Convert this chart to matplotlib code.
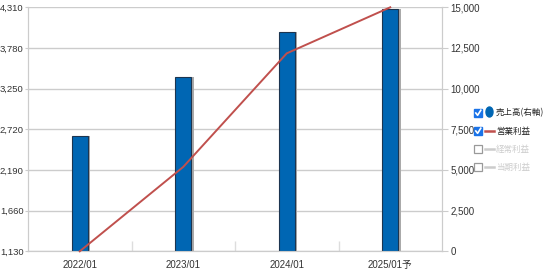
import matplotlib.pyplot as plt
from matplotlib.patches import Rectangle, Ellipse
from matplotlib.lines import Line2D

plt.rcParams['font.family'] = ['Noto Sans CJK JP', 'DejaVu Sans']
num_font = ['Liberation Sans', 'Noto Sans CJK JP']

periods = ['2022/01', '2023/01', '2024/01', '2025/01予']
sales = [7080, 10700, 13460, 14870]
op_profit = [1130, 2230, 3710, 4310]
left_ticks = [1130, 1660, 2190, 2720, 3250, 3780, 4310]
right_ticks = [0, 2500, 5000, 7500, 10000, 12500, 15000]
legend_labels = ['売上高(右軸)', '営業利益', '経常利益', '当期利益']
legend_on = [True, True, False, False]

W, H = 545, 276
fig = plt.figure(figsize=(W / 100, H / 100), dpi=100)
ax = fig.add_axes([28 / W, 1 - 251.3 / H, (442 - 28) / W, (251.3 - 7.3) / H])
ax2 = ax.twinx()

x = list(range(len(periods)))
blue = '#0066b3'
red = '#c0504d'
grid_c = '#cccccc'

# bars (sales, right axis)
ax.bar([i + 0.02 for i in x], sales, width=0.16, color='#aaaaaa', zorder=2)
ax.bar(x, sales, width=0.155, color=blue, edgecolor='#1c3550', linewidth=0.8, zorder=3)
ax.set_ylim(0, 15000)
ax.set_yticks(right_ticks)
ax.set_yticklabels([f'{v:,}' for v in right_ticks], family=num_font)
ax.yaxis.tick_right()
ax.grid(axis='y', color=grid_c, linewidth=1, zorder=0)
ax.set_xlim(-0.5, 3.5)
ax.set_xticks(x)
ax.set_xticklabels(periods, family=num_font)
ax.set_xticks([0.5, 1.5, 2.5], minor=True)
ax.tick_params(axis='x', which='major', length=0, pad=6, labelsize=7, colors='#333333')
ax.tick_params(axis='x', which='minor', length=7, direction='in', color='#dddddd', width=1)
ax.tick_params(axis='y', length=4, color=grid_c, labelsize=7, labelcolor='#333333', pad=2)

# line (operating profit, left axis)
ax2.plot(x, op_profit, color=red, linewidth=1.4, zorder=4, clip_on=False)
ax2.set_ylim(1130, 4310)
ax2.set_yticks(left_ticks)
ax2.set_yticklabels([f'{v:,}' for v in left_ticks], family=num_font)
ax2.yaxis.tick_left()
ax2.tick_params(axis='y', length=2, color=grid_c, labelsize=6.8, labelcolor='#333333', pad=1)

for a in (ax, ax2):
    a.spines['top'].set_visible(False)
    for s in ('left', 'right', 'bottom'):
        a.spines[s].set_color(grid_c)

# legend with check boxes
rows = [113, 131, 149, 167]
for i, (lab, on) in enumerate(zip(legend_labels, legend_on)):
    yc = rows[i]
    bx, by = 474, yc - 4
    if on:
        fig.patches.append(Rectangle((bx / W, 1 - (by + 8) / H), 8 / W, 8 / H,
                                     transform=fig.transFigure, facecolor='#1a73e8',
                                     edgecolor='#1a73e8'))
        fig.lines.append(Line2D([(bx + 1.8) / W, (bx + 3.6) / W, (bx + 6.8) / W],
                                [1 - (yc) / H, 1 - (yc + 2.3) / H, 1 - (yc - 2.8) / H],
                                transform=fig.transFigure, color='white', linewidth=1.2))
        tc = '#222222'
    else:
        fig.patches.append(Rectangle((bx / W, 1 - (by + 8) / H), 8 / W, 8 / H,
                                     transform=fig.transFigure, facecolor='white',
                                     edgecolor='#999999', linewidth=0.9))
        tc = '#cccccc'
    if i == 0:
        fig.patches.append(Ellipse((489.5 / W, 1 - (yc - 1) / H), 7 / W, 10 / H,
                                   transform=fig.transFigure, color=blue))
    else:
        lc = red if on else '#cccccc'
        fig.lines.append(Line2D([485 / W, 494 / W], [1 - yc / H, 1 - yc / H],
                                transform=fig.transFigure, color=lc, linewidth=1.8))
    fig.text(496 / W, 1 - yc / H, lab, fontsize=6.1, color=tc, va='center', ha='left')

fig.savefig('out.png', dpi=100)
